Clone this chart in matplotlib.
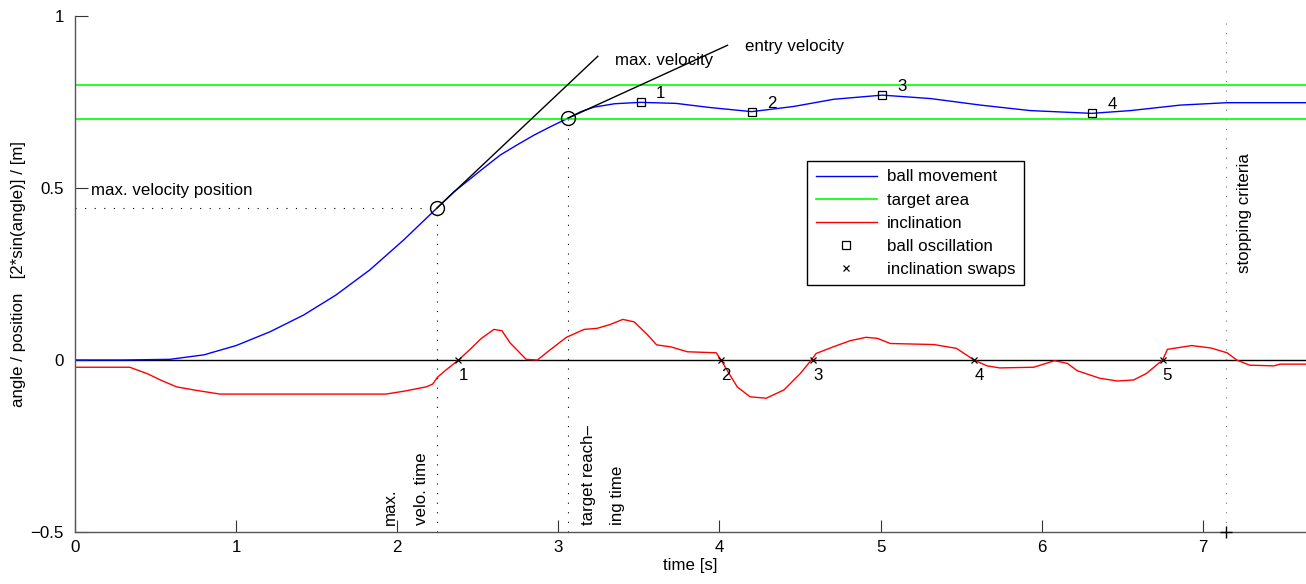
import numpy as np
import matplotlib
matplotlib.use('Agg')
import matplotlib.pyplot as plt

plt.rcParams['font.family'] = ['Liberation Sans', 'DejaVu Sans']
plt.rcParams['font.size'] = 12.2
plt.rcParams['lines.scale_dashes'] = False

# 1 - Data

# ball position (blue)
t_ball = [0, 0.3, 0.59, 0.8, 1.0, 1.21, 1.42, 1.62, 1.83, 2.04, 2.245, 2.35, 2.47,
          2.55, 2.64, 2.75, 2.85, 2.95, 3.06, 3.14, 3.22, 3.35, 3.51, 3.73, 3.94,
          4.20, 4.46, 4.71, 5.01, 5.31, 5.62, 5.93, 6.31, 6.55, 6.86, 7.15, 7.64]
pos_ball = [0, 0, 0.002, 0.015, 0.042, 0.082, 0.131, 0.189, 0.262, 0.349, 0.441,
            0.488, 0.533, 0.563, 0.596, 0.627, 0.654, 0.678, 0.703, 0.722, 0.735,
            0.745, 0.749, 0.746, 0.734, 0.722, 0.737, 0.758, 0.770, 0.760, 0.741,
            0.725, 0.717, 0.725, 0.741, 0.748, 0.748]

# inclination (red)
t_incl = [0, 0.34, 0.45, 0.53, 0.63, 0.75, 0.90, 1.93, 2.05, 2.18, 2.22, 2.25, 2.30,
          2.38, 2.45, 2.52, 2.60, 2.65, 2.70, 2.80, 2.87, 2.95, 3.05, 3.16, 3.24,
          3.32, 3.40, 3.47, 3.55, 3.61, 3.70, 3.80, 3.98, 4.01, 4.06, 4.11, 4.19,
          4.29, 4.40, 4.50, 4.57, 4.60, 4.71, 4.81, 4.91, 4.98, 5.06, 5.33, 5.47,
          5.58, 5.66, 5.74, 5.95, 6.08, 6.16, 6.22, 6.36, 6.47, 6.57, 6.65, 6.75,
          6.78, 6.93, 7.05, 7.15, 7.21, 7.29, 7.44, 7.48, 7.64]
incl = [-0.021, -0.021, -0.04, -0.058, -0.078, -0.088, -0.099, -0.099, -0.09, -0.078,
        -0.07, -0.05, -0.03, 0.0, 0.03, 0.062, 0.089, 0.085, 0.05, 0.002, 0.0, 0.03,
        0.066, 0.089, 0.092, 0.103, 0.118, 0.111, 0.075, 0.044, 0.038, 0.024, 0.021,
        0.0, -0.04, -0.078, -0.107, -0.111, -0.087, -0.04, 0.0, 0.019, 0.039, 0.056,
        0.066, 0.063, 0.048, 0.045, 0.034, 0.0, -0.017, -0.023, -0.021, -0.002,
        -0.01, -0.031, -0.053, -0.061, -0.058, -0.039, 0.0, 0.031, 0.042, 0.035,
        0.021, 0.0, -0.015, -0.017, -0.012, -0.012]

target_lo, target_hi = 0.7, 0.8

# ball oscillation extrema (squares)
t_osc = [3.51, 4.20, 5.01, 6.31]
pos_osc = [0.749, 0.722, 0.770, 0.717]

# inclination swaps (zero crossings)
t_swap = [2.38, 4.01, 4.58, 5.58, 6.75]

# characteristic points
t_vmax, pos_vmax = 2.245, 0.441
t_entry, pos_entry = 3.06, 0.703
t_stop = 7.145

# tangent line ends
vmax_line_end = (3.245, 0.883)
entry_line_end = (4.05, 0.915)

t_end = 7.64

# 2 - Plot

fig = plt.figure(figsize=(13.06, 5.84), dpi=100)
ax = fig.add_axes([0.0574, 0.089, 0.9426, 0.8836])

dot = (0, (0.8, 6.1))

ax.axhline(0, color='k', lw=1.0, zorder=1)
ax.plot([0, t_vmax], [pos_vmax, pos_vmax], color='k', lw=0.8, ls=dot)
ax.plot([t_vmax, t_vmax], [-0.5, pos_vmax], color='k', lw=0.8, ls=dot)
ax.plot([t_entry, t_entry], [-0.5, pos_entry], color='k', lw=0.8, ls=dot)
ax.plot([t_stop, t_stop], [-0.5, 1.0], color='#777777', lw=0.8, ls=dot)

l1, = ax.plot(t_ball, pos_ball, color='#0000ff', lw=1.0, label='ball movement')
l2 = ax.axhline(target_lo, color='#00ff00', lw=1.2, label='target area')
ax.axhline(target_hi, color='#00ff00', lw=1.2)
l3, = ax.plot(t_incl, incl, color='#ff0000', lw=1.0, label='inclination')

ax.plot([t_vmax, vmax_line_end[0]], [pos_vmax, vmax_line_end[1]], color='k', lw=1.0)
ax.plot([t_entry, entry_line_end[0]], [pos_entry, entry_line_end[1]], color='k', lw=1.0)

ax.plot([t_vmax, t_entry], [pos_vmax, pos_entry], ls='none', marker='o', ms=10,
        mfc='none', mec='k', mew=1.0)
l4, = ax.plot(t_osc, pos_osc, ls='none', marker='s', ms=6, mfc='none', mec='k',
              mew=0.9, label='ball oscillation')
l5, = ax.plot(t_swap, np.zeros(len(t_swap)), ls='none', marker='x', ms=4.5,
              color='k', mew=0.9, label='inclination swaps')
ax.plot([t_stop], [-0.5], ls='none', marker='+', ms=9, color='k', mew=1.0,
        clip_on=False, zorder=5)

for i, (tt, pp) in enumerate(zip(t_osc, pos_osc)):
    ax.text(tt + 0.125, pp + 0.025, str(i + 1), ha='center', va='center')
for i, tt in enumerate(t_swap):
    ax.text(tt + 0.03, -0.045, str(i + 1), ha='center', va='center')

ax.text(0.1, 0.492, 'max. velocity position', ha='left', va='center')
ax.text(3.35, 0.872, 'max. velocity', ha='left', va='center')
ax.text(4.16, 0.91, 'entry velocity', ha='left', va='center')
ax.text(1.955, -0.48, 'max.', rotation=90, ha='center', va='bottom')
ax.text(2.15, -0.48, 'velo. time', rotation=90, ha='center', va='bottom')
ax.text(3.185, -0.48, 'target reach\u2013', rotation=90, ha='center', va='bottom')
ax.text(3.37, -0.48, 'ing time', rotation=90, ha='center', va='bottom')
ax.text(7.26, 0.253, 'stopping criteria', rotation=90, ha='center', va='bottom')

leg = ax.legend(handles=[l1, l2, l3, l4, l5], loc='upper left',
                bbox_to_anchor=(0.5947, 0.719), borderaxespad=0, fancybox=False,
                framealpha=1, edgecolor='k', fontsize=12.2, handlelength=3.6,
                borderpad=0.5, labelspacing=0.48, handletextpad=0.6)
leg.get_frame().set_linewidth(1.0)

ax.set_xlim(0, t_end)
ax.set_ylim(-0.5, 1.0)
ax.set_xticks(range(0, 8))
ax.set_yticks([-0.5, 0, 0.5, 1])
ax.set_yticklabels(['\u22120.5', '0', '0.5', '1'])
ax.spines['top'].set_visible(False)
ax.spines['right'].set_visible(False)
for s in ['left', 'bottom']:
    ax.spines[s].set_color('#555555')
    ax.spines[s].set_linewidth(1.0)
ax.tick_params(direction='in', length=9, width=0.8, color='#333333', labelsize=12.2)
ax.tick_params(axis='x', pad=6)
ax.tick_params(axis='y', pad=8)
ax.set_xlabel('time [s]', labelpad=2)
ax.set_ylabel('angle / position   [2*sin(angle)] / [m]', labelpad=3)

fig.savefig('out.png', dpi=100, facecolor='w')
